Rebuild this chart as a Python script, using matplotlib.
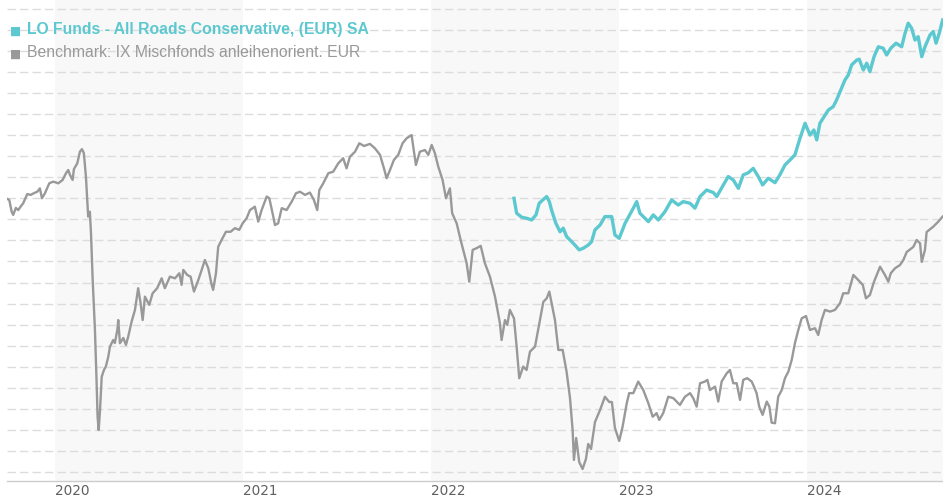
import matplotlib
matplotlib.use("Agg")
import matplotlib.pyplot as plt

# ---------------- data (performance in %, time in decimal years) ----------------
bench_t = [2019.746, 2019.757, 2019.770, 2019.778, 2019.792, 2019.805, 2019.817, 2019.831, 2019.853, 2019.871,
           2019.888, 2019.906, 2019.920, 2019.931, 2019.947, 2019.970, 2019.991, 2020.018, 2020.041, 2020.059,
           2020.071, 2020.080, 2020.094, 2020.101, 2020.119, 2020.133, 2020.144, 2020.154, 2020.165, 2020.172,
           2020.177, 2020.186, 2020.192, 2020.201, 2020.213, 2020.222, 2020.227, 2020.233, 2020.240, 2020.249,
           2020.261, 2020.271, 2020.284, 2020.293, 2020.302, 2020.310, 2020.319, 2020.332, 2020.337, 2020.346,
           2020.364, 2020.378, 2020.390, 2020.408, 2020.426, 2020.443, 2020.456, 2020.467, 2020.479, 2020.502,
           2020.520, 2020.544, 2020.568, 2020.585, 2020.612, 2020.639, 2020.662, 2020.674, 2020.683, 2020.704,
           2020.722, 2020.740, 2020.763, 2020.781, 2020.798, 2020.816, 2020.834, 2020.842, 2020.857, 2020.869,
           2020.887, 2020.910, 2020.935, 2020.958, 2020.981, 2020.999, 2021.020, 2021.038, 2021.064, 2021.082,
           2021.100, 2021.127, 2021.141, 2021.162, 2021.171, 2021.188, 2021.207, 2021.233, 2021.260, 2021.283,
           2021.304, 2021.331, 2021.357, 2021.378, 2021.396, 2021.407, 2021.428, 2021.455, 2021.481, 2021.508,
           2021.534, 2021.552, 2021.570, 2021.597, 2021.620, 2021.645, 2021.676, 2021.703, 2021.730, 2021.751,
           2021.765, 2021.783, 2021.804, 2021.827, 2021.850, 2021.872, 2021.898, 2021.907, 2021.921, 2021.942,
           2021.969, 2021.987, 2022.005, 2022.022, 2022.040, 2022.063, 2022.081, 2022.102, 2022.114, 2022.138,
           2022.159, 2022.177, 2022.191, 2022.205, 2022.223, 2022.244, 2022.266, 2022.288, 2022.315, 2022.342,
           2022.368, 2022.377, 2022.395, 2022.407, 2022.421, 2022.443, 2022.457, 2022.471, 2022.492, 2022.510,
           2022.528, 2022.555, 2022.581, 2022.599, 2022.617, 2022.631, 2022.645, 2022.661, 2022.679, 2022.702,
           2022.723, 2022.741, 2022.755, 2022.762, 2022.774, 2022.790, 2022.808, 2022.826, 2022.838, 2022.853,
           2022.874, 2022.901, 2022.927, 2022.950, 2022.964, 2022.980, 2023.003, 2023.021, 2023.043, 2023.056,
           2023.078, 2023.104, 2023.131, 2023.158, 2023.181, 2023.202, 2023.216, 2023.237, 2023.264, 2023.291,
           2023.326, 2023.353, 2023.380, 2023.397, 2023.415, 2023.433, 2023.459, 2023.472, 2023.486, 2023.513,
           2023.530, 2023.548, 2023.575, 2023.592, 2023.610, 2023.628, 2023.646, 2023.663, 2023.684, 2023.708,
           2023.720, 2023.734, 2023.748, 2023.766, 2023.788, 2023.802, 2023.814, 2023.832, 2023.849, 2023.868,
           2023.885, 2023.903, 2023.921, 2023.938, 2023.956, 2023.974, 2023.997, 2024.018, 2024.045, 2024.062,
           2024.080, 2024.098, 2024.125, 2024.151, 2024.178, 2024.195, 2024.222, 2024.249, 2024.275, 2024.299,
           2024.316, 2024.337, 2024.359, 2024.391, 2024.417, 2024.435, 2024.448, 2024.471, 2024.497, 2024.515,
           2024.533, 2024.568, 2024.586, 2024.604, 2024.613, 2024.630, 2024.639, 2024.674, 2024.701, 2024.724]

bench_v = [-0.03, -0.08, -0.64, -0.79, -0.46, -0.56, -0.40, -0.24, 0.20, 0.16,
           0.24, 0.31, 0.47, 0.00, 0.24, 0.71, 0.79, 0.71, 0.87, 1.19,
           1.34, 1.11, 0.87, 1.38, 1.66, 2.21, 2.33, 2.14, 1.03, -0.08,
           -0.87, -0.64, -1.66, -3.88, -6.25, -8.78, -10.37, -11.00, -10.05, -8.47,
           -8.15, -7.99, -7.52, -7.04, -6.88, -6.73, -6.87, -6.25, -5.78, -6.88,
           -6.63, -6.96, -6.57, -5.86, -5.30, -4.27, -4.98, -5.78, -4.67, -5.06,
           -4.51, -4.27, -3.80, -4.27, -3.72, -3.80, -3.56, -4.11, -3.40, -3.64,
           -3.72, -4.43, -3.88, -3.40, -2.93, -3.32, -4.11, -4.35, -3.56, -2.30,
           -1.98, -1.59, -1.59, -1.42, -1.50, -1.19, -0.95, -0.56, -0.40, -1.11,
           -0.56, 0.08, 0.00, -0.87, -1.27, -1.19, -0.47, -0.56, -0.16, 0.24,
           0.31, 0.16, 0.27, -0.08, -0.56, 0.39, 0.71, 1.19, 1.26, 1.66,
           1.90, 1.42, 1.97, 2.21, 2.61, 2.48, 2.58, 2.37, 2.06, 1.42,
           0.95, 1.34, 1.82, 2.06, 2.61, 2.85, 3.00, 2.45, 1.58, 2.21,
           2.29, 2.06, 2.53, 2.14, 1.50, 0.87, 0.00, 0.47, -0.71, -1.19,
           -1.98, -2.61, -3.08, -3.96, -2.45, -2.37, -2.26, -3.08, -3.72, -4.67,
           -5.93, -6.73, -5.78, -6.01, -5.30, -5.70, -7.04, -8.54, -7.99, -8.15,
           -7.28, -7.04, -5.78, -4.92, -4.75, -4.43, -5.06, -5.78, -7.20, -7.20,
           -8.24, -9.48, -11.00, -12.42, -11.38, -12.52, -12.85, -12.37, -11.66, -11.90,
           -10.62, -10.05, -9.42, -9.67, -9.67, -10.90, -11.52, -10.84, -9.73, -9.25,
           -9.25, -8.70, -9.10, -9.73, -10.37, -10.20, -10.52, -10.20, -9.42, -9.49,
           -9.81, -9.42, -9.25, -9.49, -9.89, -8.78, -8.70, -8.62, -9.10, -8.94,
           -9.65, -8.70, -8.31, -8.15, -8.78, -8.78, -9.57, -8.62, -8.54, -8.70,
           -8.94, -9.25, -9.89, -10.28, -9.65, -9.89, -10.65, -10.68, -9.42, -9.10,
           -8.54, -8.23, -7.67, -6.88, -6.25, -5.70, -5.59, -6.25, -6.17, -6.49,
           -5.78, -5.30, -5.38, -5.30, -4.98, -4.51, -4.51, -3.64, -3.88, -4.11,
           -4.75, -4.59, -3.96, -3.25, -3.64, -3.96, -3.56, -3.32, -3.17, -2.93,
           -2.55, -2.31, -1.98, -2.14, -3.02, -2.45, -1.60, -1.35, -1.11, -0.87]

fund_t = [2022.443, 2022.457, 2022.484, 2022.510, 2022.537, 2022.560, 2022.577, 2022.596, 2022.617, 2022.631,
          2022.643, 2022.666, 2022.688, 2022.705, 2022.723, 2022.750, 2022.767, 2022.790, 2022.812, 2022.838,
          2022.856, 2022.874, 2022.901, 2022.927, 2022.945, 2022.963, 2022.980, 2023.003, 2023.034, 2023.078,
          2023.096, 2023.113, 2023.158, 2023.184, 2023.211, 2023.246, 2023.282, 2023.317, 2023.344, 2023.380,
          2023.406, 2023.433, 2023.468, 2023.504, 2023.522, 2023.557, 2023.583, 2023.610, 2023.637, 2023.663,
          2023.690, 2023.716, 2023.743, 2023.766, 2023.796, 2023.832, 2023.858, 2023.885, 2023.912, 2023.938,
          2023.965, 2023.992, 2024.018, 2024.039, 2024.054, 2024.071, 2024.093, 2024.116, 2024.142, 2024.160,
          2024.182, 2024.204, 2024.222, 2024.240, 2024.267, 2024.280, 2024.302, 2024.320, 2024.337, 2024.359,
          2024.382, 2024.408, 2024.426, 2024.448, 2024.476, 2024.506, 2024.524, 2024.541, 2024.559, 2024.577,
          2024.594, 2024.613, 2024.630, 2024.657, 2024.674, 2024.689, 2024.706, 2024.724]

fund_v = [0.00, -0.71, -0.90, -0.95, -1.03, -0.79, -0.24, -0.08, 0.08, -0.16,
          -0.56, -1.19, -1.59, -1.42, -1.82, -2.06, -2.22, -2.45, -2.37, -2.22,
          -2.06, -1.50, -1.27, -0.87, -0.87, -0.87, -1.74, -1.90, -1.19, -0.47,
          -0.16, -0.71, -1.11, -0.79, -1.03, -0.64, -0.08, -0.32, -0.16, -0.24,
          -0.47, 0.08, 0.39, 0.27, 0.08, 0.63, 1.03, 0.87, 0.47, 1.11,
          1.21, 1.42, 1.03, 0.63, 0.95, 0.74, 1.11, 1.58, 1.82, 2.06,
          2.85, 3.56, 3.00, 3.24, 2.77, 3.56, 3.87, 4.19, 4.35, 4.67,
          5.14, 5.61, 5.85, 6.33, 6.56, 6.60, 6.09, 6.41, 6.01, 6.72,
          7.19, 7.12, 6.80, 7.12, 7.36, 7.19, 7.83, 8.31, 8.07, 7.51,
          7.67, 6.72, 7.19, 7.75, 7.91, 7.36, 7.83, 8.46]

year_ticks = [2020, 2021, 2022, 2023, 2024]
year_labels = ["2020", "2021", "2022", "2023", "2024"]
shaded_years = [2020, 2022, 2024]
fund_name = "LO Funds - All Roads Conservative, (EUR) SA"
bench_name = "Benchmark: IX Mischfonds anleihenorient. EUR"

# ---------------- styling ----------------
TEAL = "#5cc8cf"
GRAY = "#999999"
plt.rcParams['font.family'] = ['Liberation Sans', 'DejaVu Sans']

fig = plt.figure(figsize=(9.43, 5.0), dpi=100)
ax = fig.add_axes([7 / 943, 19 / 500, 936 / 943, 481 / 500])

x0, x1 = 2019.745, 2024.726
ax.set_xlim(x0, x1)
ax.set_ylim(-13.42, 9.41)

for y in shaded_years:
    ax.axvspan(y, min(y + 1, x1), color="#f8f8f8", lw=0, zorder=0)

ax.set_yticks(range(-13, 10))
ax.yaxis.grid(True, color="#dcdcdc", lw=1.0, linestyle=(0, (6, 3)), zorder=1)
ax.tick_params(axis="y", left=False, labelleft=False)

ax.plot(bench_t, bench_v, color=GRAY, lw=1.7, zorder=3, solid_joinstyle="round")
ax.plot(fund_t, fund_v, color=TEAL, lw=2.4, zorder=4, solid_joinstyle="round")

ax.set_xticks(year_ticks, year_labels)
ax.tick_params(axis="x", length=0, pad=2.5, labelsize=9.8, labelcolor="#606060")
for lab in ax.get_xticklabels():
    lab.set_horizontalalignment("left")
    lab.set_family(["DejaVu Sans"])

for s in ["top", "left", "right"]:
    ax.spines[s].set_visible(False)
ax.spines["bottom"].set_color("#cccccc")
ax.spines["bottom"].set_linewidth(1.0)
ax.set_facecolor("white")

# legend (top-left, inside the plot)
fig.text(10 / 943, 1 - 34.3 / 500, "\u25a0", color=TEAL, fontsize=8.5, va="baseline",
         family=["DejaVu Sans"])
fig.text(27 / 943, 1 - 34.3 / 500, fund_name, color=TEAL, fontsize=11.3,
         fontweight="bold", va="baseline")
fig.text(10 / 943, 1 - 57.3 / 500, "\u25a0", color=GRAY, fontsize=8.5, va="baseline",
         family=["DejaVu Sans"])
fig.text(27 / 943, 1 - 57.3 / 500, bench_name, color=GRAY, fontsize=11.3,
         va="baseline")

fig.savefig("out.png", dpi=100)
